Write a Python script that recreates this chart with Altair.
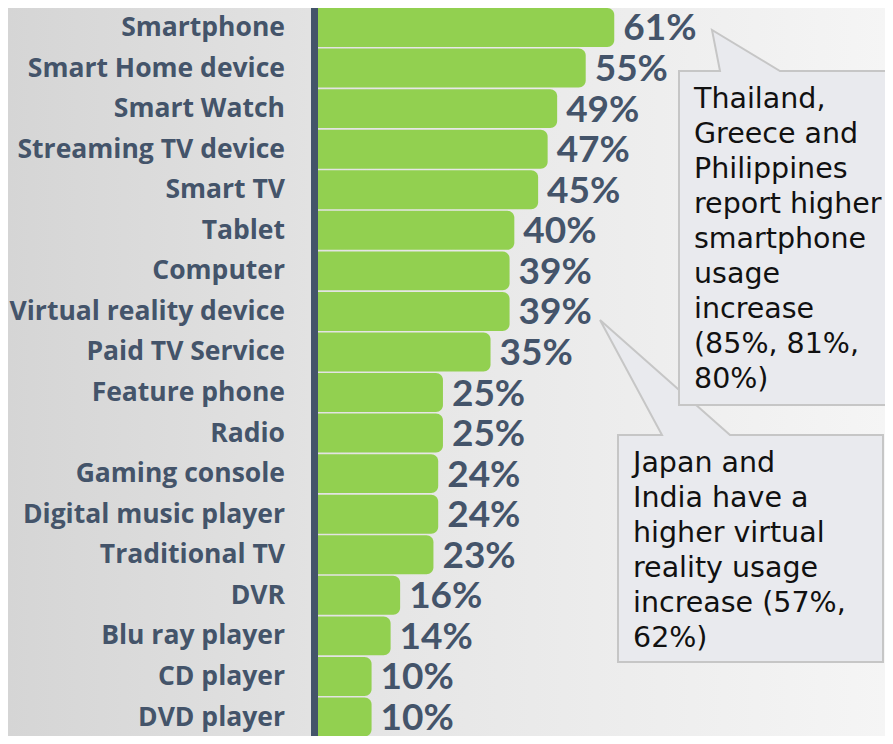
import altair as alt
import pandas as pd

# ---- data ----
devices = ["Smartphone", "Smart Home device", "Smart Watch", "Streaming TV device",
           "Smart TV", "Tablet", "Computer", "Virtual reality device",
           "Paid TV Service", "Feature phone", "Radio", "Gaming console",
           "Digital music player", "Traditional TV", "DVR", "Blu ray player",
           "CD player", "DVD player"]
values = [61, 55, 49, 47, 45, 40, 39, 39, 35, 25, 25, 24, 24, 23, 16, 14, 10, 10]

note1 = ["Thailand,", "Greece and", "Philippines", "report higher", "smartphone",
         "usage", "increase", "(85%, 81%,", "80%)"]
note2 = ["Japan and", "India have a", "higher virtual", "reality usage",
         "increase (57%,", "62%)"]

df = pd.DataFrame({"device": devices, "value": values,
                   "label": [f"{v}%" for v in values]})

LABEL = "#44546A"
GREEN = "#92D050"
W, H = 567, 728
XMIN = -1.26

yenc = alt.Y("device:N", sort=devices, axis=None,
             scale=alt.Scale(range=[-0.8, 729.3], paddingInner=0.04, paddingOuter=0.02))
xscale = alt.Scale(domain=[XMIN, 117.9], zero=False, nice=False)

one = pd.DataFrame({"a": [0]})

bg = alt.Chart(one).mark_rect(
    color=alt.LinearGradient(gradient="linear", x1=0, x2=1, y1=0, y2=0,
                             stops=[alt.GradientStop(color="#d5d5d5", offset=0),
                                    alt.GradientStop(color="#e6e6e6", offset=0.45),
                                    alt.GradientStop(color="#f5f5f5", offset=1)])
).encode(x=alt.value(-310), x2=alt.value(W), y=alt.value(0), y2=alt.value(H))

bars = alt.Chart(df).mark_bar(color=GREEN, cornerRadiusTopRight=7, cornerRadiusBottomRight=7).encode(
    y=yenc,
    x=alt.X("value:Q", scale=xscale, axis=None),
    x2=alt.datum(XMIN),
)

axis_line = alt.Chart(one).mark_rule(color=LABEL, strokeWidth=7).encode(
    x=alt.value(-3.5), y=alt.value(-10), y2=alt.value(H + 10))

cats = alt.Chart(df).mark_text(align="right", baseline="alphabetic", dy=8.5,
                               font="Open Sans", fontWeight="bold", fontSize=26.5, color=LABEL).encode(
    y=yenc, x=alt.value(-33), text="device:N")

vals = alt.Chart(df).mark_text(align="left", baseline="alphabetic", dx=9, dy=13,
                               font="Lato", fontWeight="bold", fontSize=37, color=LABEL).encode(
    y=yenc, x=alt.X("value:Q", scale=xscale), text="label:N")

path2 = "M0,0 L44,0 L-18,-115 L112,0 L265,0 L265,227 L0,227 Z"
path1 = "M0,0 L41,0 L33,-41 L101,0 L240,0 L240,334 L0,334 Z"

call2 = alt.Chart(one).mark_point(shape=path2, size=4, filled=True, fill="#e9eaee",
                                  stroke="#c6c6c6", strokeWidth=2, opacity=1, fillOpacity=1).encode(
    x=alt.value(300), y=alt.value(427))
call1 = alt.Chart(one).mark_point(shape=path1, size=4, filled=True, fill="#e9eaee",
                                  stroke="#c6c6c6", strokeWidth=2, opacity=1, fillOpacity=1).encode(
    x=alt.value(361), y=alt.value(63))

txt1 = alt.Chart(one).mark_text(align="left", baseline="alphabetic", font="DejaVu Sans",
                                fontSize=28.5, lineHeight=35, color="#111111", text=note1).encode(
    x=alt.value(694 - 318), y=alt.value(108 - 8))
txt2 = alt.Chart(one).mark_text(align="left", baseline="alphabetic", font="DejaVu Sans",
                                fontSize=28.5, lineHeight=35, color="#111111", text=note2).encode(
    x=alt.value(633 - 318), y=alt.value(472 - 8))

chart = alt.layer(bg, bars, axis_line, cats, vals, call2, call1, txt1, txt2).properties(
    width=W, height=H,
    padding={"left": 310, "top": 0, "right": 0, "bottom": 0},
    autosize=alt.AutoSizeParams(type="none"),
).configure_view(stroke=None).configure(background="#e6e6e6")

chart.save("out.html", embed_options={"renderer": "svg", "actions": False})
